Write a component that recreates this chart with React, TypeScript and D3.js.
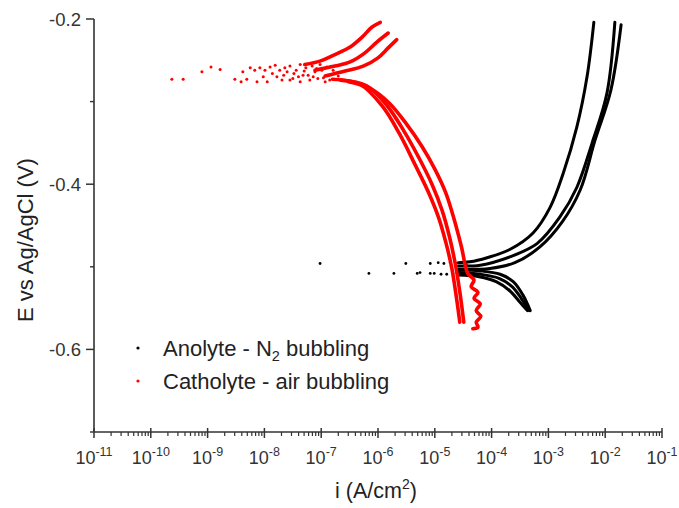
import React from "react";
import * as d3 from "d3";

// ---------- data (log10 i [A/cm2], E [V vs Ag/AgCl]) ----------
// Catholyte (air bubbling) – anodic branches
const redAnodic1: [number, number][] = [[-7.29,-0.255],[-7.02,-0.251],[-6.79,-0.244],[-6.49,-0.234],[-6.28,-0.222],[-6.11,-0.210],[-5.96,-0.204]];
const redAnodic2: [number, number][] = [[-7.11,-0.262],[-6.76,-0.257],[-6.49,-0.252],[-6.23,-0.241],[-6.02,-0.228],[-5.82,-0.217]];
const redAnodic3: [number, number][] = [[-6.93,-0.269],[-6.58,-0.263],[-6.26,-0.257],[-6.00,-0.247],[-5.82,-0.235],[-5.67,-0.225]];
// Catholyte – cathodic branches
const redCathodic1: [number, number][] = [[-6.80,-0.273],[-6.32,-0.279],[-5.93,-0.305],[-5.63,-0.338],[-5.35,-0.376],[-5.11,-0.410],[-4.93,-0.441],[-4.80,-0.472],[-4.70,-0.502],[-4.62,-0.537],[-4.56,-0.567]];
const redCathodic2: [number, number][] = [[-6.66,-0.274],[-6.20,-0.281],[-5.84,-0.305],[-5.54,-0.336],[-5.28,-0.368],[-5.05,-0.400],[-4.87,-0.432],[-4.73,-0.467],[-4.63,-0.500],[-4.55,-0.535],[-4.49,-0.567]];
const redCathodic3: [number, number][] = [[-6.52,-0.276],[-6.14,-0.284],[-5.80,-0.302],[-5.50,-0.327],[-5.22,-0.355],[-4.99,-0.383],[-4.81,-0.410],[-4.67,-0.440],[-4.53,-0.476],[-4.42,-0.508],[-4.31,-0.516],[-4.36,-0.524],[-4.24,-0.531],[-4.31,-0.538],[-4.20,-0.545],[-4.27,-0.553],[-4.19,-0.560],[-4.27,-0.567],[-4.24,-0.573],[-4.33,-0.575]];
// Catholyte – scattered points around corrosion potential
const redScatter: [number, number][] = [[-9.63,-0.273],[-9.43,-0.273],[-9.10,-0.264],[-8.94,-0.258],[-8.78,-0.261],[-8.52,-0.273],[-8.41,-0.276],[-8.38,-0.264],[-8.31,-0.273],[-8.25,-0.259],[-8.17,-0.262],[-8.13,-0.276],[-8.08,-0.259],[-7.99,-0.262],[-7.95,-0.276],[-7.90,-0.258],[-7.81,-0.256],[-7.78,-0.270],[-7.73,-0.262],[-7.69,-0.274],[-7.64,-0.259],[-7.60,-0.264],[-7.55,-0.257],[-7.55,-0.274],[-7.50,-0.272],[-7.44,-0.262],[-7.37,-0.255],[-7.37,-0.276],[-7.32,-0.268],[-7.27,-0.259],[-7.20,-0.274],[-7.16,-0.257],[-7.11,-0.264],[-7.06,-0.272],[-7.02,-0.255],[-6.99,-0.262],[-6.93,-0.276],[-6.88,-0.268],[-6.85,-0.274],[-6.79,-0.262],[-6.70,-0.269],[-7.48,-0.266],[-7.40,-0.270],[-7.30,-0.263],[-7.23,-0.268],[-7.14,-0.270],[-7.08,-0.260],[-6.96,-0.271],[-6.90,-0.258],[-7.66,-0.268],[-7.86,-0.266],[-8.02,-0.270]];

// Anolyte (N2 bubbling) – anodic branches
const blackAnodic1: [number, number][] = [[-4.59,-0.495],[-4.38,-0.494],[-4.08,-0.489],[-3.68,-0.479],[-3.27,-0.459],[-2.97,-0.428],[-2.74,-0.387],[-2.50,-0.331],[-2.32,-0.270],[-2.20,-0.204]];
const blackAnodic2: [number, number][] = [[-4.59,-0.499],[-4.20,-0.498],[-3.68,-0.488],[-3.20,-0.472],[-2.80,-0.440],[-2.50,-0.404],[-2.23,-0.350],[-1.97,-0.290],[-1.83,-0.204]];
const blackAnodic3: [number, number][] = [[-4.59,-0.503],[-4.03,-0.502],[-3.59,-0.495],[-3.15,-0.476],[-2.76,-0.446],[-2.44,-0.407],[-2.18,-0.347],[-1.90,-0.286],[-1.72,-0.207]];
// Anolyte – cathodic branches
const blackCathodic1: [number, number][] = [[-4.59,-0.504],[-4.20,-0.505],[-3.85,-0.509],[-3.62,-0.518],[-3.45,-0.534],[-3.32,-0.553]];
const blackCathodic2: [number, number][] = [[-4.59,-0.507],[-4.20,-0.509],[-3.87,-0.514],[-3.64,-0.524],[-3.47,-0.539],[-3.34,-0.553]];
const blackCathodic3: [number, number][] = [[-4.59,-0.510],[-4.22,-0.512],[-3.92,-0.518],[-3.68,-0.529],[-3.50,-0.543],[-3.37,-0.553]];
// Anolyte – scattered points
const blackScatter: [number, number][] = [[-7.02,-0.496],[-6.16,-0.508],[-5.72,-0.508],[-5.51,-0.496],[-5.31,-0.508],[-5.26,-0.507],[-5.08,-0.496],[-5.08,-0.508],[-5.01,-0.508],[-4.94,-0.495],[-4.89,-0.509],[-4.84,-0.496],[-4.79,-0.509],[-4.73,-0.495],[-4.68,-0.508],[-4.63,-0.496],[-4.54,-0.495],[-4.50,-0.508],[-4.45,-0.497]];

const xTickExponents = [-11, -10, -9, -8, -7, -6, -5, -4, -3, -2, -1];
const yMajorTicks = [-0.2, -0.4, -0.6];
const yMinorTicks = [-0.3, -0.5, -0.7];
const legendLabels = ["Anolyte - N", "Catholyte - air bubbling"];
const legendColors = ["#000000", "#ff0000"];

const W = 679, H = 508;
const FONT = "'Liberation Sans', Arial, Helvetica, sans-serif";
const AX = "#333333";

export default function App() {
  const x = d3.scaleLog().domain([1e-11, 1e-1]).range([94, 662]);
  const y = d3.scaleLinear().domain([-0.7, -0.2]).range([432, 19]);
  const line = d3
    .line<[number, number]>()
    .x((d) => x(Math.pow(10, d[0])))
    .y((d) => y(d[1]))
    .curve(d3.curveCatmullRom.alpha(0.5));

  const x0 = x.range()[0], x1 = x.range()[1];
  const yb = y.range()[0], yt = y.range()[1];

  const minorX: number[] = [];
  xTickExponents.slice(0, -1).forEach((e) => {
    for (let k = 2; k <= 9; k++) minorX.push(k * Math.pow(10, e));
  });

  const blackLines = [blackAnodic1, blackAnodic2, blackAnodic3, blackCathodic1, blackCathodic2, blackCathodic3];
  const redLines = [redAnodic1, redAnodic2, redAnodic3, redCathodic1, redCathodic2, redCathodic3];

  return (
    <svg width={W} height={H} style={{ position: "absolute", left: 0, top: 0, background: "#fff" }} fontFamily={FONT}>
      <rect x={0} y={0} width={W} height={H} fill="#fff" />
      {/* data: black */}
      {blackLines.map((d, i) => (
        <path key={"bl" + i} d={line(d) || ""} fill="none" stroke="#000" strokeWidth={3} strokeLinecap="round" strokeLinejoin="round" />
      ))}
      {blackScatter.map((d, i) => (
        <circle key={"bs" + i} cx={x(Math.pow(10, d[0]))} cy={y(d[1])} r={1.4} fill="#000" />
      ))}
      {/* data: red */}
      {redLines.map((d, i) => (
        <path key={"rl" + i} d={line(d) || ""} fill="none" stroke="#ff0000" strokeWidth={3.6} strokeLinecap="round" strokeLinejoin="round" />
      ))}
      {redScatter.map((d, i) => (
        <circle key={"rs" + i} cx={x(Math.pow(10, d[0]))} cy={y(d[1])} r={1.5} fill="#ff0000" />
      ))}

      {/* axes */}
      <line x1={x0} x2={x0} y1={yt} y2={yb} stroke={AX} strokeWidth={1.6} />
      <line x1={x0} x2={x1} y1={yb} y2={yb} stroke={AX} strokeWidth={1.6} />
      {yMajorTicks.map((v) => (
        <g key={"ym" + v}>
          <line x1={x0 - 8} x2={x0} y1={y(v)} y2={y(v)} stroke={AX} strokeWidth={1.5} />
          <text x={x0 - 13} y={y(v)} dy="0.36em" textAnchor="end" fontSize={18.5} fill={AX}>
            {v.toFixed(1)}
          </text>
        </g>
      ))}
      {yMinorTicks.map((v) => (
        <line key={"yn" + v} x1={x0 - 4} x2={x0} y1={y(v)} y2={y(v)} stroke={AX} strokeWidth={1.4} />
      ))}
      {xTickExponents.map((e) => {
        const px = x(Math.pow(10, e));
        return (
          <g key={"xm" + e}>
            <line x1={px} x2={px} y1={yb - 4} y2={yb + 6} stroke={AX} strokeWidth={1.5} />
            <text x={px} y={yb + 32} textAnchor="middle" fontSize={18} fill={AX}>
              10
              <tspan dy={-8} fontSize={12.5}>{e}</tspan>
            </text>
          </g>
        );
      })}
      {minorX.map((v, i) => (
        <line key={"xn" + i} x1={x(v)} x2={x(v)} y1={yb} y2={yb + 4} stroke={AX} strokeWidth={1.2} />
      ))}

      {/* axis titles */}
      <text x={376} y={498} textAnchor="middle" fontSize={21.5} fill="#222">
        i (A/cm<tspan dy={-9} fontSize={14}>2</tspan><tspan dy={9}>)</tspan>
      </text>
      <text transform={`translate(33,240) rotate(-90)`} textAnchor="middle" fontSize={22} fill="#222">
        E vs Ag/AgCl (V)
      </text>

      {/* legend */}
      {legendLabels.map((lab, i) => {
        const cy = 348 + i * 33;
        return (
          <g key={"lg" + i}>
            <circle cx={138} cy={cy} r={1.6} fill={legendColors[i]} />
            <text x={163} y={cy + 7.5} fontSize={22} fill="#222">
              {lab}
              {i === 0 && (
                <>
                  <tspan dy={5} fontSize={14.5}>2</tspan>
                  <tspan dy={-5}> bubbling</tspan>
                </>
              )}
            </text>
          </g>
        );
      })}
    </svg>
  );
}
